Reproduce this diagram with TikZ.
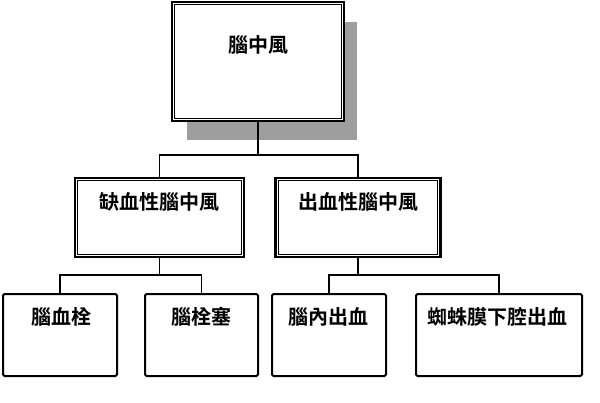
\documentclass[tikz,border=0pt]{standalone}
\usepackage{fontspec}
\newfontfamily\cjk{Noto Sans CJK TC Bold}
\begin{document}
\begin{tikzpicture}[x=1pt,y=-1pt,
  outerbox/.style={draw=black,line width=2.4pt,fill=white,inner sep=0pt,minimum width=#1},
  leafbox/.style={draw=black,line width=2pt,rounded corners=1.5pt,fill=white,inner sep=0pt,minimum width=#1,minimum height=82pt},
  txt/.style={font=\cjk\fontsize{20}{22}\selectfont,inner sep=0pt},
  conn/.style={draw=black,line width=1.8pt},
  shadowfill/.style={fill=black!38,draw=none}]
\useasboundingbox (0,0) rectangle (600,402);
\fill[white] (0,0) rectangle (600,402);
% shadow of top box
\path[shadowfill] (187,22) rectangle (357,140);
% top box
\node[outerbox=172pt,minimum height=119pt] (top) at (258,61.5) {};
\draw[line width=0.9pt] ([shift={(4,4)}]top.north west) rectangle ([shift={(-4,-4)}]top.south east);
\node[txt] (toptxt) at (258,45) {腦中風};
% mid boxes
\node[outerbox=169pt,minimum height=79pt] (isch) at (159.5,217.5) {};
\draw[line width=0.9pt] ([shift={(4,4)}]isch.north west) rectangle ([shift={(-4,-4)}]isch.south east);
\node[txt] (ischtxt) at (159,202) {缺血性腦中風};
\node[outerbox=165pt,minimum height=79pt] (hem) at (358,217.5) {};
\draw[line width=0.9pt] ([shift={(4,4)}]hem.north west) rectangle ([shift={(-4,-4)}]hem.south east);
\node[txt] (hemtxt) at (358,202) {出血性腦中風};
% leaf boxes
\node[leafbox=114pt] (b1) at (60,335) {};
\node[txt] (b1t) at (61,317) {腦血栓};
\node[leafbox=113pt] (b2) at (201.5,335) {};
\node[txt] (b2t) at (201.5,317) {腦栓塞};
\node[leafbox=114pt] (b3) at (329,335) {};
\node[txt] (b3t) at (328,317) {腦內出血};
\node[leafbox=166pt] (b4) at (499,335) {};
\node[txt] (b4t) at (497,317) {蜘蛛膜下腔出血};
% connectors
\coordinate (j0) at (258,155);
\coordinate (j1) at (159.5,275);
\coordinate (j2) at (358,275);
\draw[conn] (top.south) -- (j0);
\draw[conn] (j0) -| (isch.north);
\draw[conn] (j0) -| (hem.north);
\draw[conn] (isch.south) -- (j1);
\draw[conn] (j1) -| (b1.north);
\draw[conn] (j1) -| (b2.north);
\draw[conn] (hem.south) -- (j2);
\draw[conn] (j2) -| (b3.north);
\draw[conn] (j2) -| (b4.north);
\end{tikzpicture}
\end{document}
